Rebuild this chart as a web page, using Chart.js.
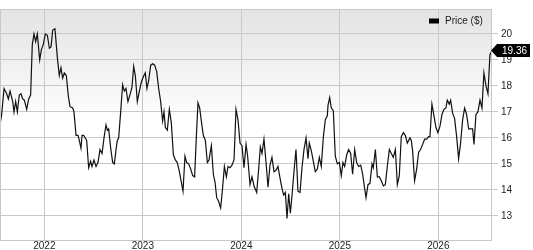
<!DOCTYPE html>
<html>
<head>
<meta charset="utf-8">
<script src="https://cdn.jsdelivr.net/npm/chart.js@4.4.1/dist/chart.umd.min.js"></script>
<style>
  html, body { margin: 0; padding: 0; background: #fff; }
  #wrap { width: 533px; height: 250px; position: relative; }
</style>
</head>
<body>
<div id="wrap"><canvas id="priceChart"></canvas></div>
<script>
// weekly closes (x = decimal year)
const seriesName = 'Price ($)';
const dates = [
  2021.550, 2021.567, 2021.591, 2021.618, 2021.635, 2021.652, 2021.679, 2021.692, 2021.709, 2021.726,
  2021.746, 2021.763, 2021.780, 2021.797, 2021.821, 2021.841, 2021.861, 2021.878, 2021.895, 2021.912,
  2021.929, 2021.953, 2021.970, 2021.990, 2022.010, 2022.031, 2022.051, 2022.068, 2022.085, 2022.108,
  2022.132, 2022.152, 2022.169, 2022.186, 2022.203, 2022.223, 2022.244, 2022.261, 2022.288, 2022.301,
  2022.322, 2022.342, 2022.355, 2022.372,
  2022.383, 2022.399, 2022.430, 2022.450, 2022.470, 2022.484, 2022.504, 2022.525, 2022.545, 2022.565,
  2022.586, 2022.606, 2022.626, 2022.640, 2022.653, 2022.674, 2022.694, 2022.711, 2022.728, 2022.741,
  2022.755, 2022.775, 2022.795, 2022.812, 2022.829, 2022.849, 2022.873, 2022.890, 2022.907, 2022.924,
  2022.944, 2022.965, 2022.985, 2023.005, 2023.025, 2023.042, 2023.059, 2023.080, 2023.100, 2023.120,
  2023.141, 2023.161, 2023.181, 2023.201,
  2023.215, 2023.229, 2023.249, 2023.269, 2023.289, 2023.310, 2023.330, 2023.350, 2023.371, 2023.391,
  2023.408, 2023.428, 2023.445, 2023.465, 2023.486, 2023.506, 2023.526, 2023.543, 2023.560, 2023.577,
  2023.594, 2023.614, 2023.635, 2023.655, 2023.672, 2023.696, 2023.716, 2023.733, 2023.750, 2023.770,
  2023.790, 2023.807, 2023.828, 2023.848, 2023.865, 2023.885, 2023.905, 2023.926, 2023.946, 2023.966,
  2023.987, 2024.007, 2024.027,
  2024.048, 2024.064, 2024.088, 2024.108, 2024.129, 2024.156, 2024.176, 2024.193, 2024.210, 2024.230,
  2024.251, 2024.271, 2024.291, 2024.311, 2024.332, 2024.352, 2024.372, 2024.393, 2024.413, 2024.430,
  2024.447, 2024.464, 2024.481, 2024.498, 2024.515, 2024.538, 2024.555, 2024.575, 2024.596, 2024.616,
  2024.636, 2024.657, 2024.677, 2024.690, 2024.711, 2024.731, 2024.751, 2024.772, 2024.792, 2024.812,
  2024.833, 2024.853, 2024.873,
  2024.880, 2024.897, 2024.914, 2024.934, 2024.954, 2024.975, 2024.995, 2025.015, 2025.032, 2025.049,
  2025.070, 2025.090, 2025.110, 2025.130, 2025.151, 2025.171, 2025.191, 2025.212, 2025.232, 2025.252,
  2025.266, 2025.286, 2025.306, 2025.327, 2025.340, 2025.361, 2025.381, 2025.401, 2025.421, 2025.442,
  2025.462, 2025.482, 2025.503, 2025.523, 2025.543, 2025.564, 2025.584, 2025.604, 2025.624, 2025.645,
  2025.665, 2025.685,
  2025.712, 2025.726, 2025.739, 2025.759, 2025.780, 2025.800, 2025.820, 2025.841, 2025.861, 2025.881,
  2025.902, 2025.915, 2025.935, 2025.956, 2025.976, 2025.996, 2026.017, 2026.037, 2026.057, 2026.077,
  2026.091, 2026.111, 2026.125, 2026.145, 2026.165, 2026.186, 2026.206, 2026.226, 2026.247, 2026.267,
  2026.287, 2026.308, 2026.328, 2026.348, 2026.362, 2026.382, 2026.402, 2026.423, 2026.443, 2026.463,
  2026.484, 2026.504, 2026.524, 2026.545
];
const prices = [
  16.5, 16.9, 17.9, 17.7, 17.5, 17.8, 17.4, 17.0, 17.4, 17.0,
  17.65, 17.7, 17.5, 17.45, 17.1, 17.5, 17.65, 19.6, 20.0, 19.7,
  20.0, 19.0, 19.4, 19.6, 20.0, 19.95, 19.45, 19.5, 20.15, 20.2,
  19.1, 18.4, 18.7, 18.3, 18.5, 18.4, 17.6, 17.2, 17.15, 17.0,
  16.1, 16.1, 15.9, 15.6,
  16.1, 16.1, 15.9, 14.85, 15.1, 14.9, 15.15, 14.9, 15.05, 15.55,
  15.4, 16.0, 16.5, 16.3, 16.35, 15.6, 15.05, 15.0, 15.55, 15.9,
  16.0, 17.0, 18.05, 17.8, 17.9, 17.4, 17.7, 17.95, 18.75, 18.4,
  17.4, 17.8, 18.15, 18.35, 18.5, 17.9, 18.2, 18.8, 18.85, 18.8,
  18.55, 17.9, 17.4, 16.65,
  17.0, 16.4, 16.3, 17.1, 16.6, 15.35, 15.15, 15.05, 14.7, 14.3,
  13.95, 15.3, 15.05, 15.0, 14.8, 14.55, 14.5, 16.0, 17.35, 17.15,
  16.65, 16.1, 15.9, 15.05, 15.15, 15.7, 14.6, 14.3, 13.7, 13.55,
  13.3, 13.95, 14.9, 14.5, 14.9, 14.85, 14.95, 15.15, 17.1, 16.7,
  15.8, 15.7, 14.85,
  15.75, 15.3, 14.2, 14.5, 14.15, 13.9, 14.8, 15.65, 15.4, 15.95,
  15.05, 14.1, 14.95, 15.25, 14.7, 14.75, 14.9, 14.45, 14.05, 13.8,
  13.9, 12.9, 13.85, 13.1, 13.8, 14.85, 15.55, 13.95, 13.9, 14.85,
  15.55, 16.0, 15.2, 15.8, 15.5, 15.1, 14.7, 14.8, 15.25, 14.9,
  16.05, 16.7, 16.85,
  17.25, 17.55, 17.15, 17.05, 15.3, 15.0, 15.05, 14.55, 15.05, 14.9,
  15.35, 15.55, 15.4, 14.6, 15.55, 15.05, 14.9, 14.95, 14.6, 14.05,
  13.7, 14.2, 14.25, 15.0, 14.85, 15.55, 14.5, 14.5, 14.35, 14.15,
  14.2, 14.9, 15.55, 15.4, 15.25, 15.55, 14.2, 14.55, 16.05, 16.2,
  16.1, 15.8,
  16.0, 15.9, 15.5, 14.35, 14.8, 15.45, 15.55, 15.75, 15.95, 15.95,
  16.05, 16.05, 17.3, 16.85, 16.4, 16.2, 16.45, 16.9, 17.1, 17.15,
  17.45, 17.3, 17.45, 16.95, 16.75, 16.05, 15.2, 15.8, 16.7, 17.15,
  16.9, 16.35, 16.35, 16.35, 15.75, 16.9, 17.0, 17.45, 17.15, 18.5,
  18.0, 17.7, 19.2, 19.36
];
const yearTicks = [2022, 2023, 2024, 2025, 2026];
const priceTicks = [13, 14, 15, 16, 17, 18, 19, 20];
const lastLabel = '19.36';

const gridColor = '#c8c8c8';
const textColor = '#222';
const fontFamily = 'Arial, "Liberation Sans", sans-serif';

// gray-to-white plot background + frame
const backdrop = {
  id: 'backdrop',
  beforeDraw(chart) {
    const { ctx, chartArea: a } = chart;
    const g = ctx.createLinearGradient(0, a.top, 0, a.bottom);
    g.addColorStop(0, '#e3e3e3');
    g.addColorStop(0.5, '#ffffff');
    ctx.save();
    ctx.fillStyle = g;
    ctx.fillRect(a.left, a.top, a.right - a.left, a.bottom - a.top);
    ctx.restore();
  },
  afterDatasetsDraw(chart) {
    const { ctx, chartArea: a } = chart;
    ctx.save();
    ctx.strokeStyle = gridColor;
    ctx.lineWidth = 1;
    ctx.strokeRect(a.left + 0.5, a.top + 0.5, a.right - a.left - 1, a.bottom - a.top);
    ctx.restore();
  }
};

// legend in the top right corner of the plot
const cornerLegend = {
  id: 'cornerLegend',
  afterDraw(chart) {
    const { ctx, chartArea: a } = chart;
    ctx.save();
    ctx.fillStyle = '#000';
    ctx.fillRect(a.right - 63, a.top + 9.5, 10, 5);
    ctx.font = '10px ' + fontFamily;
    ctx.fillStyle = textColor;
    ctx.textBaseline = 'middle';
    ctx.fillText(chart.data.datasets[0].label, a.right - 47, a.top + 12);
    ctx.restore();
  }
};

// black price tag for the last value
const lastTag = {
  id: 'lastTag',
  afterDraw(chart) {
    const { ctx, chartArea: a, scales } = chart;
    const y = scales.y.getPixelForValue(prices[prices.length - 1]);
    const x = a.right;
    ctx.save();
    ctx.fillStyle = '#000';
    ctx.beginPath();
    ctx.moveTo(x - 1, y);
    ctx.lineTo(x + 5, y - 6.5);
    ctx.lineTo(530, y - 6.5);
    ctx.lineTo(530, y + 6.5);
    ctx.lineTo(x + 5, y + 6.5);
    ctx.closePath();
    ctx.fill();
    ctx.fillStyle = '#fff';
    ctx.font = '10px ' + fontFamily;
    ctx.textAlign = 'center';
    ctx.textBaseline = 'middle';
    ctx.fillText(lastLabel, (x + 5 + 530) / 2 + 1, y + 0.5);
    ctx.restore();
  }
};

new Chart(document.getElementById('priceChart'), {
  type: 'line',
  data: {
    datasets: [{
      label: seriesName,
      data: dates.map((d, i) => ({ x: d, y: prices[i] })),
      borderColor: '#111',
      borderWidth: 1.2,
      pointRadius: 0,
      tension: 0,
      fill: false
    }]
  },
  options: {
    responsive: true,
    maintainAspectRatio: false,
    animation: false,
    layout: { padding: { left: 0, right: 0, top: 0, bottom: 0 } },
    plugins: { legend: { display: false }, tooltip: { enabled: false } },
    scales: {
      x: {
        type: 'linear',
        min: 2021.55,
        max: 2026.545,
        afterBuildTicks: s => { s.ticks = yearTicks.map(v => ({ value: v })); },
        afterFit: s => { s.height = 10; },
        grid: { color: gridColor, drawTicks: false },
        border: { display: false },
        ticks: {
          padding: 1,
          color: textColor,
          font: { family: fontFamily, size: 10, lineHeight: 1 },
          maxRotation: 0,
          callback: v => String(v)
        }
      },
      y: {
        position: 'right',
        min: 12.07,
        max: 20.96,
        afterBuildTicks: s => { s.ticks = priceTicks.map(v => ({ value: v })); },
        afterFit: s => { s.width = 41; },
        grid: { color: gridColor, tickLength: 6 },
        border: { display: false },
        ticks: {
          padding: 3,
          color: textColor,
          font: { family: fontFamily, size: 10 },
          callback: v => String(v)
        }
      }
    }
  },
  plugins: [backdrop, cornerLegend, lastTag]
});
</script>
</body>
</html>
